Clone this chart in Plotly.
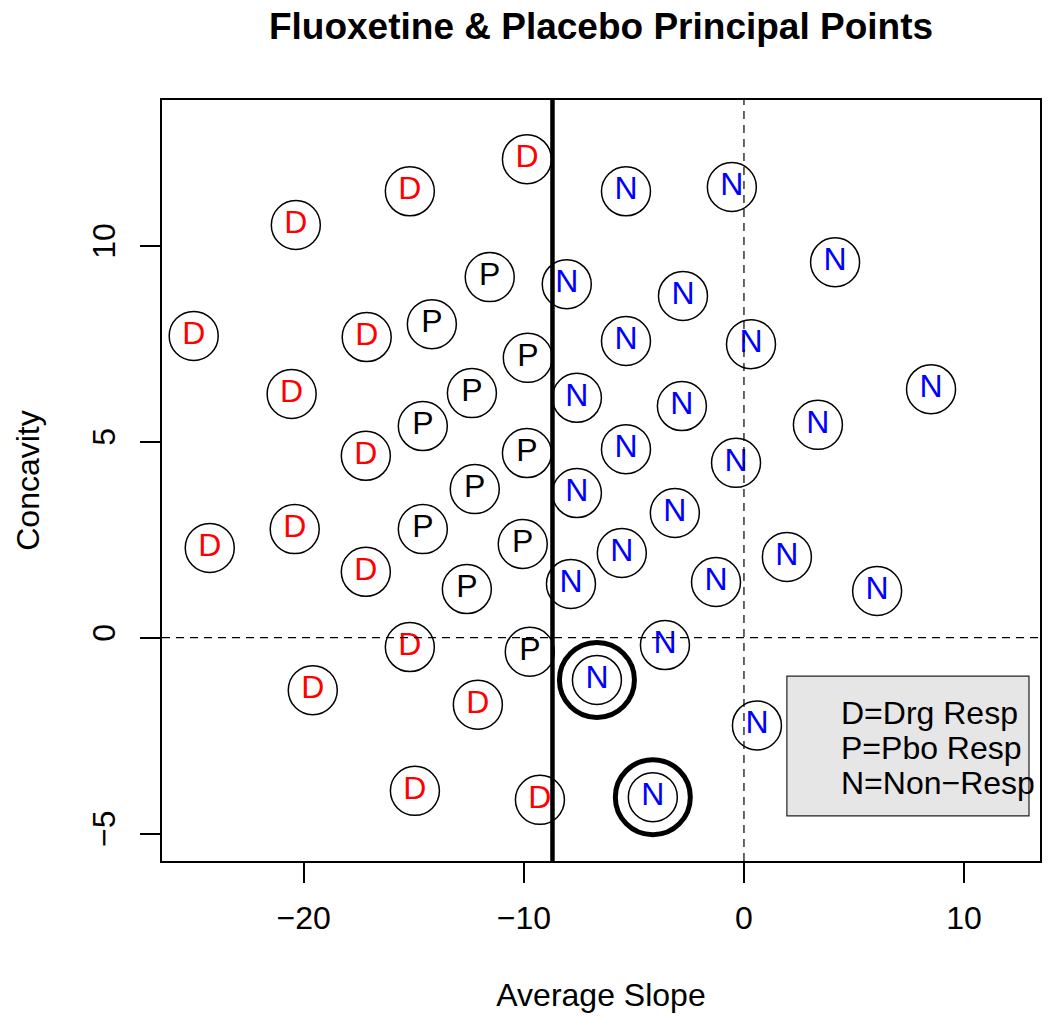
import plotly.graph_objects as go

# ---- data ----
drg_x = [-9.86, -15.18, -20.36, -25.0, -17.14, -20.55, -17.18, -20.41, -24.27, -17.18, -15.18, -19.59, -12.09, -14.95, -9.27]
drg_y = [12.21, 11.39, 10.53, 7.70, 7.67, 6.22, 4.64, 2.77, 2.29, 1.68, -0.24, -1.34, -1.71, -3.91, -4.14]

pbo_x = [-11.55, -14.18, -9.82, -12.36, -14.59, -9.86, -12.23, -14.59, -10.05, -12.59, -9.73]
pbo_y = [9.20, 8.00, 7.14, 6.24, 5.40, 4.71, 3.79, 2.77, 2.39, 1.24, -0.36]

non_x = [-5.36, -0.55, 4.14, -8.05, -2.77, -5.36, 0.32, -7.59, 8.50, -2.82, 3.36, -5.36,
         -0.36, -7.59, -3.14, -5.55, 1.95, -1.27, 6.05, -7.86, -3.59, -6.68, 0.59, -4.14]
non_y = [11.39, 11.50, 9.58, 9.02, 8.72, 7.57, 7.49, 6.12, 6.34, 5.91, 5.43, 4.81,
         4.46, 3.69, 3.18, 2.16, 2.06, 1.42, 1.19, 1.37, -0.19, -1.08, -2.24, -4.07]

# highlighted (bold ring) non-responder points
bold_x = [-6.68, -4.14]
bold_y = [-1.08, -4.07]

split_x = -8.70  # vertical boundary

x_ticks = [-20, -10, 0, 10]
y_ticks = [-5, 0, 5, 10]
legend_lines = ["D=Drg Resp", "P=Pbo Resp", "N=Non\u2212Resp"]

FONT = "Liberation Sans, Arial, Helvetica, sans-serif"

fig = go.Figure()


def add_group(xs, ys, letter, color):
    fig.add_trace(go.Scatter(
        x=xs, y=ys, mode="markers+text",
        text=[letter] * len(xs), textposition="middle center",
        textfont=dict(family=FONT, size=32, color=color),
        marker=dict(symbol="circle-open", size=49, color="black",
                    line=dict(width=1.5, color="black")),
        hoverinfo="skip", showlegend=False, cliponaxis=False))


add_group(drg_x, drg_y, "D", "#ff0000")
add_group(pbo_x, pbo_y, "P", "#000000")
add_group(non_x, non_y, "N", "#0000ff")

fig.add_trace(go.Scatter(
    x=bold_x, y=bold_y, mode="markers",
    marker=dict(symbol="circle-open", size=75, color="black",
                line=dict(width=5, color="black")),
    hoverinfo="skip", showlegend=False))

# reference lines
fig.add_shape(type="line", xref="x", yref="paper", x0=0, x1=0, y0=0, y1=1,
              line=dict(color="black", width=1.2, dash="8px,6px"), layer="above")
fig.add_shape(type="line", xref="paper", yref="y", x0=0, x1=1, y0=0, y1=0,
              line=dict(color="black", width=1.2, dash="8px,6px"), layer="above")
fig.add_shape(type="line", xref="x", yref="paper", x0=split_x, x1=split_x, y0=0, y1=1,
              line=dict(color="black", width=4.5), layer="above")

# legend box
fig.add_shape(type="rect", xref="x", yref="y", x0=1.95, x1=12.95, y0=-4.55, y1=-0.98,
              line=dict(color="#222222", width=1.2), fillcolor="#e6e6e6", layer="above")
for i, t in enumerate(legend_lines):
    fig.add_annotation(x=4.3, y=-1.92 - 0.895 * i, xref="x", yref="y", text=t,
                       showarrow=False, xanchor="left", yanchor="middle",
                       font=dict(family=FONT, size=32, color="black"))

fig.update_layout(
    width=1042, height=1010,
    margin=dict(l=154, r=10, t=92, b=157, autoexpand=False),
    paper_bgcolor="white", plot_bgcolor="white",
    font=dict(family=FONT, color="black"),
    title=dict(text="<b>Fluoxetine & Placebo Principal Points</b>",
               x=0.5, xref="paper", xanchor="center",
               y=1 - 5 / 1010, yref="container", yanchor="top", pad=dict(t=0, b=0),
               font=dict(family=FONT, size=37, color="black")),
)

fig.update_xaxes(
    range=[-26.44, 13.45], tickvals=x_ticks, ticktext=[str(v).replace("-", "\u2212") for v in x_ticks],
    ticks="outside", ticklen=20, tickwidth=1.5, tickcolor="black", automargin=False,
    tickfont=dict(family=FONT, size=32, color="black"), ticklabelstandoff=8,
    showgrid=False, zeroline=False, showline=True, linecolor="black", linewidth=1.5, mirror=True,
    title=dict(text="Average Slope", font=dict(family=FONT, size=32, color="black"), standoff=48),
)
fig.update_yaxes(
    range=[-5.70, 13.72], tickvals=y_ticks, ticktext=[str(v).replace("-", "\u2212") for v in y_ticks],
    ticks="outside", ticklen=20, tickwidth=1.5, tickcolor="black", tickangle=-90, automargin=False,
    tickfont=dict(family=FONT, size=32, color="black"), ticklabelstandoff=12,
    showgrid=False, zeroline=False, showline=True, linecolor="black", linewidth=1.5, mirror=True,
    title=dict(text="Concavity", font=dict(family=FONT, size=32, color="black"), standoff=37),
)

fig.write_html("out.html")
